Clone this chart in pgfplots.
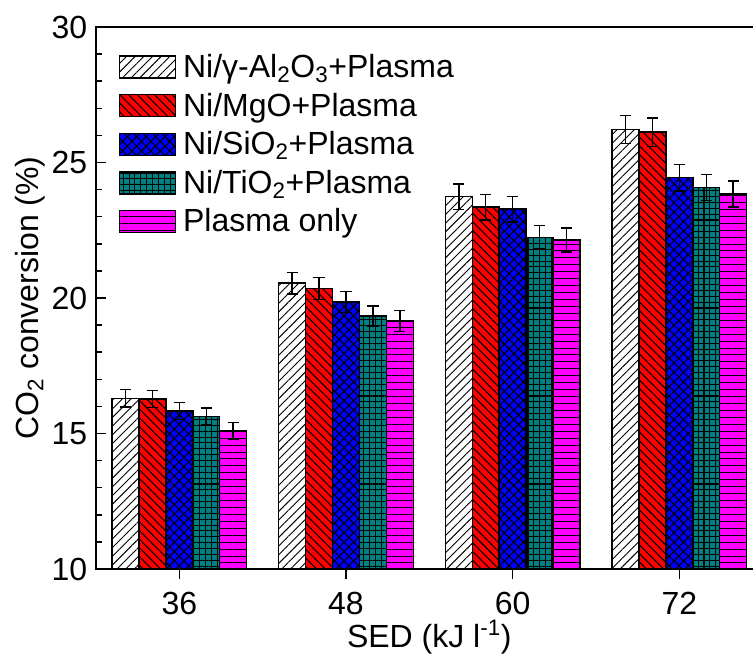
\documentclass[border=0pt]{standalone}
\usepackage{pgfplots}
\pgfplotsset{compat=1.18}
\usepackage{fontspec}
\setmainfont{Liberation Sans}
\usetikzlibrary{patterns.meta}
\definecolor{cteal}{RGB}{0,128,128}
\definecolor{cmag}{RGB}{255,0,255}
\newcommand{\bigf}{\fontsize{24}{28}\selectfont}

\begin{document}
\begin{tikzpicture}
\begin{axis}[
  at={(0,0)}, anchor=south west,
  scale only axis,
  width=500pt, height=406.5pt,
  xmin=30, xmax=78, ymin=10, ymax=30,
  xtick={36,48,60,72},
  ytick={10,15,20,25,30},
  minor y tick num=4,
  ytick pos=left, xtick pos=bottom,
  tick align=inside,
  major tick length=7.5pt, minor tick length=4.5pt,
  tick style={line width=1.1pt, black},
  axis line style={line width=1.1pt},
  /pgf/number format/assume math mode=true,
  tick label style={font=\bigf},
  yticklabel style={xshift=-3pt},
  xticklabel style={yshift=-6pt},
  label style={font=\bigf},
  xlabel={SED (kJ l\textsuperscript{-1})},
  ylabel={CO\textsubscript{2} conversion (\%)},
  xlabel style={at={(axis description cs:0.5,-0.125)}, anchor=center},
  ylabel style={at={(axis description cs:-0.099,0.5)}, anchor=center},
  ybar=0pt, bar width=20.2pt,
  legend image code/.code={\draw[#1] (0pt,-8.25pt) rectangle (42pt,8.25pt);},
  legend cell align=left,
  legend style={draw=none, fill=none, inner sep=0pt,
    at={(axis description cs:0.034,0.952)}, anchor=north west,
    font=\bigf, row sep=8pt, column sep=4pt,
    nodes={inner sep=1pt}},
  error bars/y dir=both, error bars/y explicit,
  error bars/error bar style={line width=1.1pt, black},
  error bars/error mark options={rotate=90, mark size=4.2pt, line width=1.1pt, black},
]
% Ni/gamma-Al2O3 + Plasma
\addplot[draw=black, line width=1.1pt, fill=white,
  postaction={pattern={Lines[angle=45,distance=4.6pt,line width=0.7pt]}, pattern color=black}]
  coordinates {(36,16.30) +- (0,0.33) (48,20.55) +- (0,0.40)
               (60,23.74) +- (0,0.47) (72,26.22) +- (0,0.52)};
% Ni/MgO + Plasma
\addplot[draw=black, line width=1.1pt, fill=red,
  postaction={pattern={Lines[angle=-45,distance=4.6pt,line width=0.8pt]}, pattern color=black}]
  coordinates {(36,16.27) +- (0,0.32) (48,20.35) +- (0,0.40)
               (60,23.35) +- (0,0.47) (72,26.12) +- (0,0.52)};
% Ni/SiO2 + Plasma
\addplot[draw=black, line width=1.1pt, fill=blue,
  postaction={pattern={Hatch[angle=45,distance=5pt,line width=0.8pt]}, pattern color=black}]
  coordinates {(36,15.83) +- (0,0.32) (48,19.85) +- (0,0.39)
               (60,23.28) +- (0,0.47) (72,24.44) +- (0,0.49)};
% Ni/TiO2 + Plasma
\addplot[draw=black, line width=1.1pt, fill=cteal,
  postaction={pattern={Hatch[angle=0,distance=4.4pt,line width=0.8pt]}, pattern color=black}]
  coordinates {(36,15.63) +- (0,0.31) (48,19.33) +- (0,0.38)
               (60,22.24) +- (0,0.44) (72,24.08) +- (0,0.48)};
% Plasma only
\addplot[draw=black, line width=1.1pt, fill=cmag,
  postaction={pattern={Lines[angle=0,distance=5.2pt,line width=0.7pt]}, pattern color=black}]
  coordinates {(36,15.10) +- (0,0.30) (48,19.15) +- (0,0.38)
               (60,22.14) +- (0,0.44) (72,23.83) +- (0,0.48)};
\legend{Ni/γ-Al\textsubscript{2}O\textsubscript{3}+Plasma,
        Ni/MgO+Plasma,
        Ni/SiO\textsubscript{2}+Plasma,
        Ni/TiO\textsubscript{2}+Plasma,
        Plasma only}
\end{axis}
\pgfresetboundingbox
\path[use as bounding box] (-72pt,-68.25pt) rectangle (492.75pt,426.75pt);
\end{tikzpicture}
\end{document}
